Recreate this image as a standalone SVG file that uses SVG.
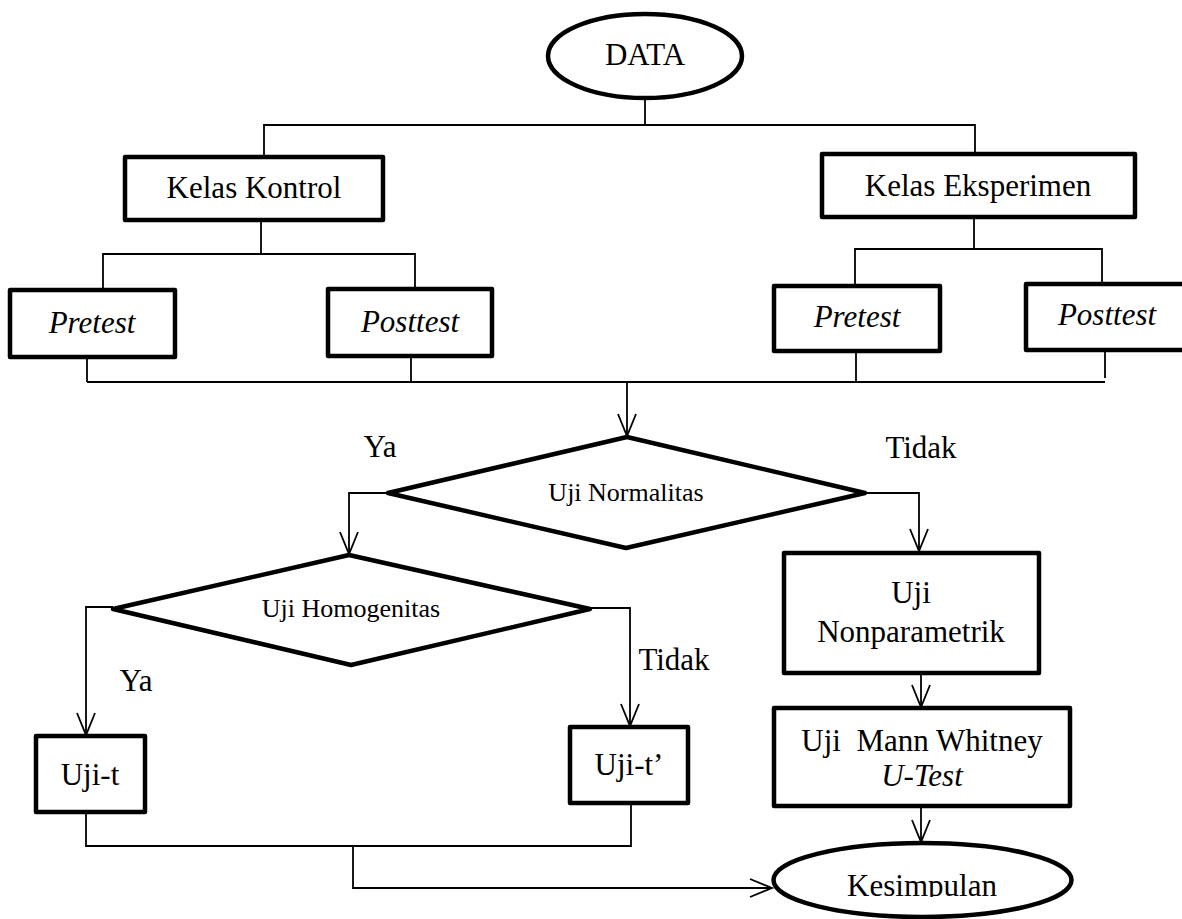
<svg xmlns="http://www.w3.org/2000/svg" width="1182" height="919" viewBox="0 0 1182 919" font-family="'Liberation Serif', Tinos, 'DejaVu Serif', 'Times New Roman', serif">
<style>
.box{fill:#fff;stroke:#000;stroke-width:4.5;stroke-linejoin:round}
.con{fill:none;stroke:#000;stroke-width:1.8}
.t{font-family:'Liberation Serif',Tinos,'DejaVu Serif','Times New Roman',serif;font-size:31px;fill:#000;text-anchor:middle}
.s{font-size:26px}
.i{font-style:italic}
</style>
<defs>
<marker id="arr" markerUnits="userSpaceOnUse" markerWidth="30" markerHeight="24" refX="24" refY="10" orient="auto" overflow="visible">
<path d="M2,1 L24,10 L2,19" fill="none" stroke="#000" stroke-width="1.8"/>
</marker>
<clipPath id="kclip"><rect x="760" y="830" width="330" height="67"/></clipPath>
</defs>
<rect width="1182" height="919" fill="#fff"/>
<g id="connectors">
<path class="con" d="M645,98 V125 M264,157 V125 H975 V154"/>
<path class="con" d="M261,220 V254 M103,289 V254 H415 V289"/>
<path class="con" d="M974,217 V249 M855,285 V249 H1102 V283"/>
<path class="con" d="M87,358 V382 M411,356 V382 M856,351 V382 M1105,350 V378 M87,382 H1105"/>
<path class="con" d="M627,382 V436" marker-end="url(#arr)"/>
<path class="con" d="M388,493 H349 V554" marker-end="url(#arr)"/>
<path class="con" d="M865,493 H919 V551" marker-end="url(#arr)"/>
<path class="con" d="M113,607 H86 V735" marker-end="url(#arr)"/>
<path class="con" d="M590,608 H630 V726" marker-end="url(#arr)"/>
<path class="con" d="M921,673 V707" marker-end="url(#arr)"/>
<path class="con" d="M921,806 V842" marker-end="url(#arr)"/>
<path class="con" d="M86,812 V846 H631 V803"/>
<path class="con" d="M353,846 V888 H772" marker-end="url(#arr)"/>
</g>
<g id="labels">
<text class="t" x="380" y="457">Ya</text>
<text class="t" x="921" y="458">Tidak</text>
<text class="t" x="136" y="691">Ya</text>
<text class="t" x="674" y="670">Tidak</text>
</g>
<g id="data"><ellipse class="box" cx="645" cy="56" rx="97" ry="42"/><text class="t" x="645" y="65">DATA</text></g>
<g id="kelas-kontrol"><rect class="box" x="125" y="157" width="258" height="63"/><text class="t" x="254" y="198">Kelas Kontrol</text></g>
<g id="kelas-eksperimen"><rect class="box" x="822" y="154" width="313" height="63"/><text class="t" x="978" y="196">Kelas Eksperimen</text></g>
<g id="pretest-kontrol"><rect class="box" x="10" y="290" width="165" height="67"/><text class="t i" x="92" y="333">Pretest</text></g>
<g id="posttest-kontrol"><rect class="box" x="328" y="289" width="164" height="67"/><text class="t i" x="410" y="332">Posttest</text></g>
<g id="pretest-eksperimen"><rect class="box" x="774" y="286" width="166" height="65"/><text class="t i" x="857" y="327">Pretest</text></g>
<g id="posttest-eksperimen"><rect class="box" x="1026" y="284" width="170" height="66"/><text class="t i" x="1107" y="325">Posttest</text></g>
<g id="uji-normalitas"><polygon class="box" points="627,437 865,493 626,548 388,493"/><text class="t s" x="626" y="501">Uji Normalitas</text></g>
<g id="uji-homogenitas"><polygon class="box" points="349,555 590,609 351,665 113,609"/><text class="t s" x="351" y="617">Uji Homogenitas</text></g>
<g id="uji-nonparametrik"><rect class="box" x="784" y="553" width="255" height="120"/><text class="t" x="911" y="603">Uji</text><text class="t" x="911" y="642">Nonparametrik</text></g>
<g id="uji-t"><rect class="box" x="36" y="736" width="109" height="76"/><text class="t" x="90" y="785">Uji-t</text></g>
<g id="uji-t-aksen"><rect class="box" x="570" y="727" width="118" height="76"/><text class="t" x="629" y="775">Uji-t’</text></g>
<g id="mann-whitney"><rect class="box" x="774" y="708" width="296" height="98"/><text class="t" x="922" y="751" xml:space="preserve">Uji  Mann Whitney</text><text class="t i" x="922" y="786">U-Test</text></g>
<g id="kesimpulan"><ellipse class="box" cx="922.5" cy="880" rx="149" ry="37"/><text class="t" x="922" y="896" clip-path="url(#kclip)">Kesimpulan</text></g>
</svg>
